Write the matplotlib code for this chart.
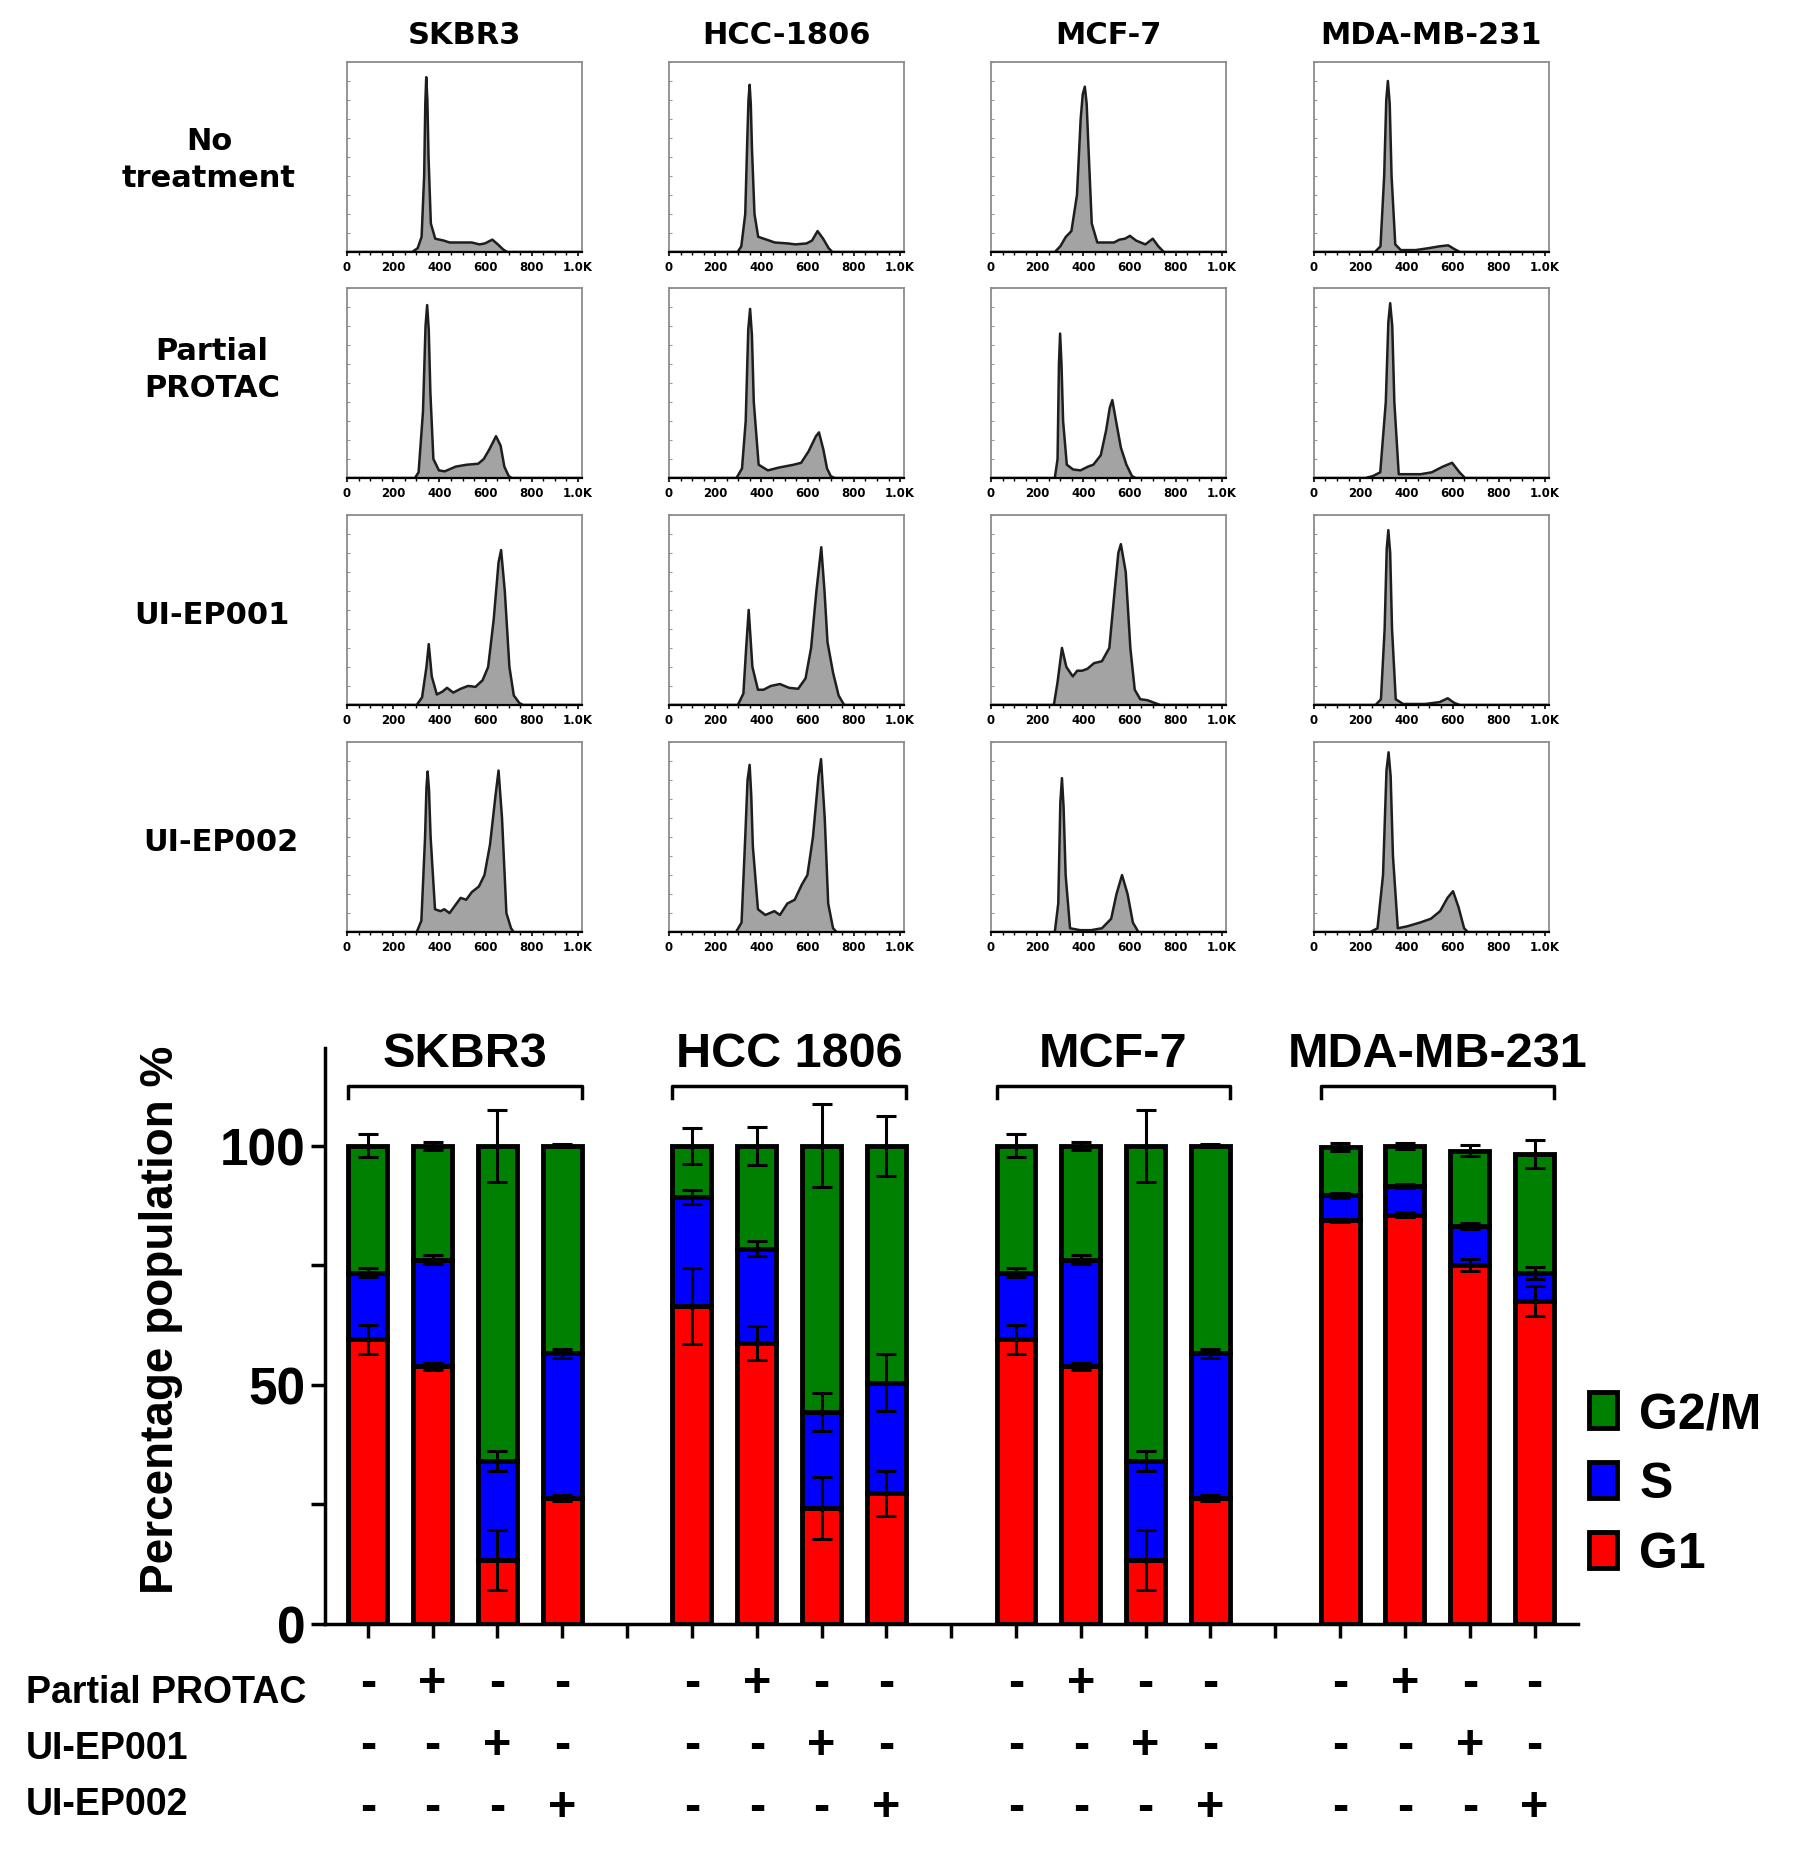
import numpy as np
import matplotlib.pyplot as plt
from matplotlib.ticker import MultipleLocator

# ---------------------------------------------------------------
# Data : histogram traces (DNA content, fraction of panel height)
# ---------------------------------------------------------------
skbr3_nt = [(0, 0), (282, 0), (306, 0.02), (323, 0.08), (334, 0.4), (339, 0.78), (343, 0.92),
            (348, 0.8), (353, 0.5), (363, 0.15), (382, 0.07), (419, 0.06), (444, 0.05),
            (492, 0.05), (540, 0.05), (573, 0.04), (597, 0.045), (629, 0.065), (653, 0.04),
            (677, 0.012), (694, 0), (1017, 0)]
hcc_nt = [(0, 0), (297, 0), (313, 0.03), (330, 0.2), (339, 0.6), (344, 0.8), (349, 0.88),
          (354, 0.78), (359, 0.55), (370, 0.2), (386, 0.08), (410, 0.07), (458, 0.05),
          (514, 0.045), (547, 0.04), (595, 0.045), (619, 0.06), (643, 0.11), (667, 0.07),
          (691, 0.02), (707, 0), (1017, 0)]
mcf7_nt = [(0, 0), (276, 0), (300, 0.03), (324, 0.08), (348, 0.11), (372, 0.3), (388, 0.7),
           (397, 0.83), (406, 0.87), (414, 0.78), (420, 0.6), (436, 0.15), (460, 0.05),
           (492, 0.05), (532, 0.05), (556, 0.065), (580, 0.07), (601, 0.085), (628, 0.06),
           (668, 0.04), (700, 0.07), (724, 0.03), (748, 0), (1017, 0)]
mda_nt = [(0, 0), (264, 0), (288, 0.03), (304, 0.4), (313, 0.8), (320, 0.9), (328, 0.78),
          (336, 0.4), (352, 0.04), (376, 0.01), (440, 0.01), (496, 0.02), (544, 0.03),
          (581, 0.035), (608, 0.015), (632, 0), (1017, 0)]

skbr3_pp = [(0, 0), (294, 0), (310, 0.03), (329, 0.35), (340, 0.8), (347, 0.91), (354, 0.78),
            (361, 0.45), (374, 0.1), (398, 0.04), (423, 0.035), (471, 0.06), (519, 0.07),
            (568, 0.075), (592, 0.1), (616, 0.15), (645, 0.22), (665, 0.17), (681, 0.06),
            (700, 0.01), (713, 0), (1017, 0)]
hcc_pp = [(0, 0), (292, 0), (316, 0.05), (332, 0.3), (343, 0.78), (351, 0.89), (359, 0.75),
          (367, 0.4), (388, 0.07), (428, 0.04), (476, 0.055), (540, 0.07), (572, 0.08),
          (604, 0.14), (636, 0.22), (649, 0.24), (668, 0.15), (684, 0.05), (700, 0.01),
          (716, 0), (1017, 0)]
mcf7_pp = [(0, 0), (276, 0), (288, 0.1), (294, 0.6), (299, 0.76), (305, 0.6), (312, 0.3),
           (328, 0.07), (355, 0.045), (387, 0.04), (420, 0.06), (443, 0.07), (475, 0.12),
           (498, 0.25), (514, 0.37), (525, 0.41), (541, 0.3), (562, 0.16), (586, 0.07),
           (610, 0.01), (626, 0), (1017, 0)]
mda_pp = [(0, 0), (223, 0), (255, 0.01), (287, 0.03), (311, 0.4), (322, 0.82), (330, 0.92),
          (339, 0.8), (348, 0.4), (367, 0.02), (415, 0.02), (462, 0.02), (510, 0.03),
          (558, 0.06), (598, 0.08), (630, 0.03), (654, 0), (1017, 0)]

skbr3_e1 = [(0, 0), (302, 0), (325, 0.04), (344, 0.2), (354, 0.32), (367, 0.15), (389, 0.055),
            (413, 0.07), (433, 0.09), (460, 0.065), (492, 0.085), (524, 0.1), (556, 0.095),
            (587, 0.13), (611, 0.2), (635, 0.45), (656, 0.75), (667, 0.815), (683, 0.6),
            (703, 0.2), (722, 0.05), (746, 0.01), (762, 0), (1017, 0)]
hcc_e1 = [(0, 0), (298, 0), (322, 0.06), (334, 0.3), (345, 0.5), (361, 0.2), (385, 0.08),
          (409, 0.08), (441, 0.1), (480, 0.11), (520, 0.09), (559, 0.085), (591, 0.14),
          (615, 0.3), (638, 0.6), (659, 0.83), (673, 0.6), (686, 0.33), (710, 0.17),
          (734, 0.05), (758, 0), (1017, 0)]
mcf7_e1 = [(0, 0), (272, 0), (288, 0.12), (307, 0.3), (326, 0.2), (354, 0.15), (373, 0.18),
           (394, 0.18), (417, 0.19), (446, 0.22), (480, 0.23), (512, 0.3), (535, 0.6),
           (551, 0.8), (562, 0.846), (583, 0.7), (603, 0.3), (622, 0.08), (646, 0.03),
           (677, 0.025), (709, 0.01), (732, 0), (1017, 0)]
mda_e1 = [(0, 0), (267, 0), (290, 0.03), (306, 0.4), (315, 0.82), (322, 0.92), (330, 0.8),
          (338, 0.4), (354, 0.03), (386, 0.005), (481, 0.005), (544, 0.015), (579, 0.035),
          (608, 0.01), (632, 0), (1017, 0)]

skbr3_e2 = [(0, 0), (302, 0), (322, 0.06), (338, 0.5), (344, 0.76), (349, 0.845), (355, 0.75),
            (362, 0.5), (381, 0.12), (405, 0.11), (421, 0.12), (444, 0.1), (468, 0.14),
            (492, 0.18), (516, 0.17), (540, 0.21), (571, 0.24), (595, 0.3), (619, 0.46),
            (643, 0.72), (656, 0.85), (671, 0.6), (690, 0.1), (710, 0.02), (722, 0), (1017, 0)]
hcc_e2 = [(0, 0), (290, 0), (314, 0.05), (330, 0.5), (340, 0.8), (349, 0.88), (356, 0.72),
          (363, 0.45), (385, 0.12), (417, 0.09), (456, 0.11), (480, 0.09), (512, 0.15),
          (544, 0.17), (575, 0.25), (599, 0.3), (623, 0.5), (647, 0.82), (658, 0.91),
          (674, 0.6), (689, 0.15), (710, 0.02), (726, 0), (1017, 0)]
mcf7_e2 = [(0, 0), (276, 0), (291, 0.15), (300, 0.68), (307, 0.81), (314, 0.66), (323, 0.3),
           (342, 0.02), (386, 0.01), (433, 0.01), (480, 0.02), (520, 0.07), (543, 0.2),
           (567, 0.3), (591, 0.2), (614, 0.05), (638, 0), (1017, 0)]
mda_e2 = [(0, 0), (244, 0), (275, 0.02), (299, 0.3), (314, 0.85), (323, 0.946), (332, 0.82),
          (342, 0.4), (363, 0.02), (403, 0.03), (459, 0.05), (506, 0.07), (546, 0.11),
          (578, 0.18), (602, 0.215), (626, 0.13), (650, 0.02), (666, 0), (1017, 0)]

hist_cols = ["SKBR3", "HCC-1806", "MCF-7", "MDA-MB-231"]
hist_rows = ["No\ntreatment", "Partial\nPROTAC", "UI-EP001", "UI-EP002"]
hist_grid = [[skbr3_nt, hcc_nt, mcf7_nt, mda_nt],
             [skbr3_pp, hcc_pp, mcf7_pp, mda_pp],
             [skbr3_e1, hcc_e1, mcf7_e1, mda_e1],
             [skbr3_e2, hcc_e2, mcf7_e2, mda_e2]]

# ---------------------------------------------------------------
# Data : cell cycle distribution (%), mean and error
# ---------------------------------------------------------------
groups = ["SKBR3", "HCC 1806", "MCF-7", "MDA-MB-231"]
g1 = [[59.5, 53.9, 13.4, 26.4], [66.5, 58.8, 24.3, 27.3],
      [59.5, 53.9, 13.4, 26.4], [84.4, 85.6, 75.1, 67.5]]
s_phase = [[14.0, 22.3, 20.6, 30.2], [22.8, 19.7, 20.0, 23.2],
           [14.0, 22.3, 20.6, 30.2], [5.3, 6.0, 8.2, 5.9]]
g2m = [[26.5, 23.8, 66.0, 43.4], [10.7, 21.5, 55.7, 49.5],
       [26.5, 23.8, 66.0, 43.4], [10.1, 8.4, 15.7, 24.9]]
g1_err = [[3.1, 0.7, 6.3, 0.6], [8.0, 3.5, 6.5, 4.7], [3.1, 0.7, 6.3, 0.6], [0.3, 0.5, 1.2, 3.1]]
s_err = [[1.0, 1.0, 2.1, 0.9], [1.5, 1.5, 4.0, 6.0], [1.0, 1.0, 2.1, 0.9], [0.5, 0.4, 0.6, 1.2]]
g2m_err = [[2.4, 0.8, 7.6, 0.3], [3.7, 4.0, 8.7, 6.3], [2.4, 0.8, 7.6, 0.3], [0.9, 0.6, 1.1, 3.0]]

treat_rows = ["Partial PROTAC", "UI-EP001", "UI-EP002"]
treat_signs = [["-", "+", "-", "-"],
               ["-", "-", "+", "-"],
               ["-", "-", "-", "+"]]

phase_colors = {"G1": "#ff0000", "S": "#0000ff", "G2/M": "#008000"}

fig = plt.figure(figsize=(17.94, 18.74), dpi=100)

##############################
# HISTOGRAMS (4 x 4)
##############################
col_left = [0.1934, 0.3729, 0.5524, 0.7324]
row_bottom = [0.865, 0.7444, 0.6233, 0.5021]
pw, ph = 0.131, 0.1014
row_label_xy = [(0.1165, 0.9145), (0.1182, 0.8025), (0.1182, 0.6713), (0.1232, 0.5502)]

for r in range(4):
    for c in range(4):
        ax = fig.add_axes([col_left[c], row_bottom[r], pw, ph])
        pts = np.array(hist_grid[r][c])
        ax.fill_between(pts[:, 0], pts[:, 1], color="#a3a3a3", lw=0)
        ax.plot(pts[:, 0], pts[:, 1], color="#1e1e1e", lw=1.8, solid_joinstyle="round")
        ax.set_xlim(0, 1017)
        ax.set_ylim(0, 1)
        ax.set_xticks([0, 200, 400, 600, 800, 1000])
        ax.set_xticklabels(["0", "200", "400", "600", "800", "1.0K"],
                           fontsize=8.5, fontweight="bold")
        ax.xaxis.set_minor_locator(MultipleLocator(50))
        ax.set_yticks([])
        ax.yaxis.set_minor_locator(MultipleLocator(0.1))
        ax.tick_params(axis="x", which="major", length=3, width=1.2, pad=3)
        ax.tick_params(axis="x", which="minor", length=2, width=1)
        ax.tick_params(axis="y", which="minor", direction="in", length=2, width=0.8,
                       color="#999999")
        for side in ["top", "right", "left"]:
            ax.spines[side].set_color("#8c8c8c")
            ax.spines[side].set_linewidth(1.3)
        ax.spines["bottom"].set_linewidth(1.6)
        if r == 0:
            ax.set_title(hist_cols[c], fontsize=22, fontweight="bold", pad=14)
    fig.text(row_label_xy[r][0], row_label_xy[r][1], hist_rows[r], fontsize=22,
             fontweight="bold", ha="center", va="center", multialignment="center",
             linespacing=1.35)

##############################
# STACKED BAR CHART
##############################
bfont = "Liberation Sans"
ax = fig.add_axes([0.1812, 0.1329, 0.6984, 0.3074])

width = 0.6
for gi in range(4):
    x = np.arange(4) + 5 * gi
    b1 = np.array(g1[gi])
    b2 = np.array(s_phase[gi])
    b3 = np.array(g2m[gi])
    ax.bar(x, b1, width, color=phase_colors["G1"], edgecolor="black", lw=3.5,
           label="G1" if gi == 0 else None, zorder=2)
    ax.bar(x, b2, width, bottom=b1, color=phase_colors["S"], edgecolor="black", lw=3.5,
           label="S" if gi == 0 else None, zorder=2)
    ax.bar(x, b3, width, bottom=b1 + b2, color=phase_colors["G2/M"], edgecolor="black",
           lw=3.5, label="G2/M" if gi == 0 else None, zorder=2)
    ax.errorbar(x, b1, yerr=g1_err[gi], fmt="none", ecolor="black", elinewidth=2.2,
                capsize=7, capthick=2.2, zorder=3)
    ax.errorbar(x, b1 + b2, yerr=s_err[gi], fmt="none", ecolor="black", elinewidth=2.2,
                capsize=7, capthick=2.2, zorder=3)
    ax.errorbar(x, b1 + b2 + b3, yerr=g2m_err[gi], fmt="none", ecolor="black",
                elinewidth=2.2, capsize=7, capthick=2.2, zorder=3)
    # bracket + group title
    x0, x1 = x[0] - 0.3, x[-1] + 0.3
    ax.plot([x0, x0, x1, x1], [110, 112.5, 112.5, 110], color="black", lw=2.5,
            clip_on=False)
    ax.text((x0 + x1) / 2, 114.6, groups[gi], ha="center", va="bottom",
            fontsize=35, fontweight="bold", family=bfont, clip_on=False)
    # treatment table
    for ri in range(3):
        for k in range(4):
            ax.text(x[k], -0.104 - 0.107 * ri, treat_signs[ri][k],
                    transform=ax.get_xaxis_transform(), ha="center", va="center",
                    fontsize=35, fontweight="bold", family=bfont)

for ri in range(3):
    fig.text(0.0145, 0.0968 - 0.03 * ri, treat_rows[ri], ha="left", va="center",
             fontsize=27, fontweight="bold", family=bfont)

ax.set_xlim(-0.66, 18.67)
ax.set_ylim(0, 120.5)
ax.set_xticks(np.arange(19))
ax.set_xticklabels([])
ax.set_yticks([0, 50, 100])
ax.set_yticklabels(["0", "50", "100"], fontsize=37, fontweight="bold", family=bfont)
ax.yaxis.set_minor_locator(MultipleLocator(25))
ax.tick_params(axis="both", which="major", length=10, width=2.5, pad=4)
ax.tick_params(axis="y", which="minor", length=10, width=2.5)
ax.spines["top"].set_visible(False)
ax.spines["right"].set_visible(False)
ax.spines["left"].set_linewidth(2.5)
ax.spines["bottom"].set_linewidth(2.5)
ax.set_ylabel("Percentage population %", fontsize=33, fontweight="bold", family=bfont)
ax.yaxis.set_label_coords(-0.113, 0.53)

handles, labels = ax.get_legend_handles_labels()
order = [2, 1, 0]
ax.legend([handles[i] for i in order], [labels[i] for i in order],
          loc="upper left", bbox_to_anchor=(0.886, 0.257), bbox_transform=fig.transFigure,
          frameon=False, prop={"family": bfont, "weight": "bold", "size": 36},
          handlelength=0.55, handleheight=0.75, handletextpad=0.45, labelspacing=0.48,
          borderpad=0, borderaxespad=0)

plt.savefig("out.png", dpi=100)
